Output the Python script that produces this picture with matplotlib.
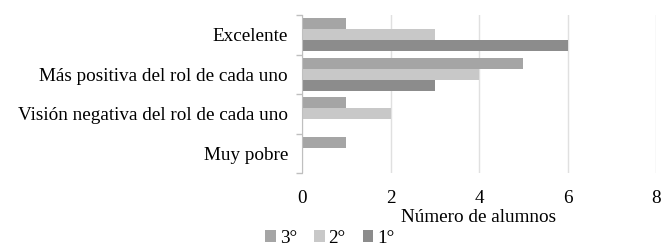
import numpy as np
import matplotlib.pyplot as plt

plt.rcParams['font.family'] = ['Liberation Serif', 'DejaVu Serif']

categorias = ['Excelente', 'Más positiva del rol de cada uno',
              'Visión negativa del rol de cada uno', 'Muy pobre']
series = ['3°', '2°', '1°']
valores = {
    '3°': [1, 5, 1, 1],
    '2°': [3, 4, 2, 0],
    '1°': [6, 3, 0, 0],
}
colores = {'3°': '#a5a5a5', '2°': '#c8c8c8', '1°': '#8c8c8c'}

fs = 13.8
fig = plt.figure(figsize=(6.66, 2.48), dpi=100)
ax = fig.add_axes([302/666, 1-173/248, 354/666, 158/248])

y = np.arange(len(categorias))[::-1]
h = 0.28
for i, s in enumerate(series):
    ax.barh(y + (1 - i) * h, valores[s], height=h, color=colores[s], label=s, zorder=2)

ax.set_xlim(0, 8)
ax.set_ylim(-0.5, len(categorias) - 0.5)
ax.set_xticks([0, 2, 4, 6, 8])
ax.set_yticks(y)
ax.set_yticklabels(categorias)
ax.set_yticks(np.arange(-0.5, len(categorias)), minor=True)
ax.tick_params(axis='y', which='major', length=0, labelsize=fs, pad=10)
ax.tick_params(axis='y', which='minor', length=4, color='#bfbfbf', width=1)
ax.tick_params(axis='x', length=0, labelsize=fs, pad=12)
ax.grid(axis='x', color='#e0e0e0', linewidth=1, zorder=0)
for side in ['top', 'right', 'bottom']:
    ax.spines[side].set_visible(False)
ax.spines['left'].set_color('#bfbfbf')
ax.set_xlabel('Número de alumnos', fontsize=fs, labelpad=2)

ax.legend(loc='upper left', bbox_to_anchor=(-0.125, -0.31), ncol=3, frameon=False,
          fontsize=fs, handlelength=0.55, handleheight=0.55, handletextpad=0.2,
          columnspacing=0.9, borderaxespad=0)

fig.savefig('out.png', dpi=100)
